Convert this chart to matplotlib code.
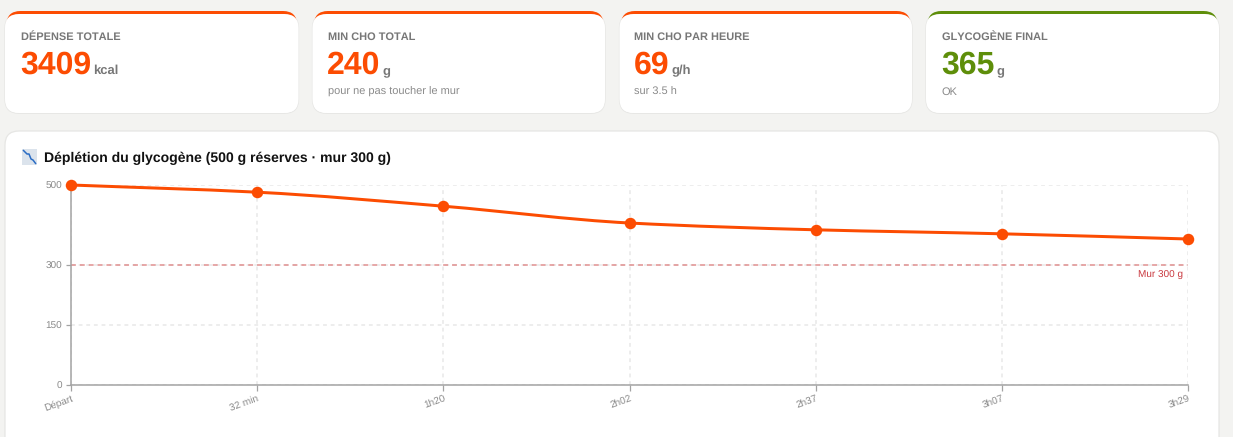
import matplotlib
matplotlib.use("Agg")
import matplotlib.pyplot as plt
import numpy as np
from matplotlib.patches import FancyBboxPatch, PathPatch, Rectangle
from matplotlib.path import Path

plt.rcParams['font.family'] = ['Liberation Sans', 'DejaVu Sans']
plt.rcParams['text.hinting'] = 'no_hinting'
plt.rcParams['text.hinting_factor'] = 1

W, H = 1233, 437
labels = ["Départ", "32 min", "1h20", "2h02", "2h37", "3h07", "3h29"]
glycogen = [500, 482, 447, 405, 388, 378, 365]
yticks = [0, 150, 300, 500]
wall = 300
wall_label = "Mur 300 g"
title = "Déplétion du glycogène (500 g réserves · mur 300 g)"
card_titles = ["DÉPENSE TOTALE", "MIN CHO TOTAL", "MIN CHO PAR HEURE", "GLYCOGÈNE FINAL"]
card_values = ["3409", "240", "69", "365"]
card_units = ["kcal", "g", "g/h", "g"]
card_subs = ["", "pour ne pas toucher le mur", "sur 3.5 h", "OK"]

ORANGE = "#fc4c02"
GREEN = "#5e8e0a"
BG = "#f3f3f1"
px = 72 / 100  # points per pixel

fig = plt.figure(figsize=(W / 100, H / 100), dpi=100, facecolor=BG)
bg = fig.add_axes([0, 0, 1, 1], zorder=0)
bg.set_xlim(0, W); bg.set_ylim(H, 0); bg.axis("off")


def round_box(x0, y0, x1, y1, r, fc, ec="none", lw=0, z=1):
    p = FancyBboxPatch((x0 + r, y0 + r), x1 - x0 - 2 * r, y1 - y0 - 2 * r,
                       boxstyle=f"round,pad={r},rounding_size={r}",
                       fc=fc, ec=ec, lw=lw, zorder=z)
    bg.add_patch(p)
    return p


cards_x = [(5, 298.5), (312.5, 605), (619.5, 912), (926, 1219)]
cards_tx = [20.8, 327.5, 634.5, 941.8]
for i, (x0, x1) in enumerate(cards_x):
    col = GREEN if i == 3 else ORANGE
    round_box(x0, 14, x1, 113.3, 14, "white", ec="#e6e6e4", lw=0.9, z=1)
    round_box(x0 + 1.5, 11, x1 - 1.5, 60, 14, col, z=2)
    round_box(x0, 14, x1, 113, 14, "white", z=2.5)
    tx = cards_tx[i]
    bg.text(tx, 36.8, card_titles[i], fontsize=11.25 * px, color="#777777",
            fontweight="bold", va="center", ha="left", zorder=3)
    v = bg.text(tx - 0.8, 62.5, card_values[i], fontsize=32.5 * px, color=col, fontweight="bold",
                va="center_baseline", ha="left", zorder=3)
    fig.canvas.draw()
    bb = v.get_window_extent()
    bg.text(bb.x1 + 2, 70.5, card_units[i], fontsize=12.5 * px, color="#777777",
            fontweight="bold", va="center", ha="left", zorder=3)
    if card_subs[i]:
        bg.text(tx, 92, card_subs[i], fontsize=11 * px, color="#8a8a8a",
                va="center", ha="left", zorder=3)

# chart panel
round_box(5, 131, 1219, 470, 14, "white", ec="#e6e6e4", lw=0.9, z=1)
bg.text(43.5, 158, title, fontsize=13.88 * px, fontweight="bold", color="#111111",
        va="center", ha="left", zorder=3)
# trending-down icon
bg.add_patch(Rectangle((22, 149), 15, 16, fc="#dbe3ec", ec="none", zorder=3))
bg.plot([23, 27, 29, 31, 33, 36], [150, 154, 154, 159, 160, 164], color="#2a6cc4",
        lw=1.1, zorder=4, solid_capstyle="butt")

# plot area
x0, x1, ytop, ybot = 71, 1188, 185, 385
ax = fig.add_axes([x0 / W, 1 - ybot / H, (x1 - x0) / W, (ybot - ytop) / H], zorder=2)
ax.patch.set_alpha(0)
xs = np.arange(len(labels), dtype=float)
ys = np.array(glycogen, dtype=float)
ax.set_xlim(0, len(labels) - 1)
ax.set_ylim(0, 500)
ax.set_xticks(xs)
ax.set_xticklabels(labels, rotation=20, ha="right", rotation_mode="anchor")
ax.set_yticks(yticks)
ax.grid(True, color="#e8e8e8", lw=1.1, ls=(0, (2.5, 2.5)))
ax.set_axisbelow(True)
for s in ("top", "right"):
    ax.spines[s].set_visible(False)
for s in ("left", "bottom"):
    ax.spines[s].set_color("#a3a3a3")
    ax.spines[s].set_linewidth(1.1)
ax.tick_params(axis="both", length=5 * px * 1.1, width=0.9, color="#a3a3a3",
               labelsize=10 * px, labelcolor="#8a8a8a", pad=2.5)
ax.tick_params(axis="x", pad=2.5)
for t in ax.get_yticklabels():
    t.set_verticalalignment("center_baseline")

ax.axhline(wall, color="#e09090", lw=1.1, ls=(0, (3.2, 2.6)), zorder=2)
ax.text(len(labels) - 1 - 0.027, wall - 27, wall_label, fontsize=10 * px,
        color="#c9393f", ha="right", va="center", zorder=3)

# smooth curve through the data
d = np.diff(ys) / np.diff(xs)
m = np.zeros_like(ys)
m[0], m[-1] = d[0], d[-1]
for i in range(1, len(ys) - 1):
    m[i] = 0 if d[i - 1] * d[i] <= 0 else 2 * d[i - 1] * d[i] / (d[i - 1] + d[i])
verts = [(xs[0], ys[0])]
codes = [Path.MOVETO]
for i in range(len(ys) - 1):
    verts += [(xs[i] + 1 / 3, ys[i] + m[i] / 3),
              (xs[i + 1] - 1 / 3, ys[i + 1] - m[i + 1] / 3),
              (xs[i + 1], ys[i + 1])]
    codes += [Path.CURVE4] * 3
ax.add_patch(PathPatch(Path(verts, codes), fc="none", ec=ORANGE, lw=3 * px,
                       zorder=4, clip_on=False))
ax.plot(xs, ys, ls="none", marker="o", ms=11.5 * px, color=ORANGE, mew=0, zorder=5, clip_on=False)

fig.savefig("out.png", dpi=100, facecolor=BG)
